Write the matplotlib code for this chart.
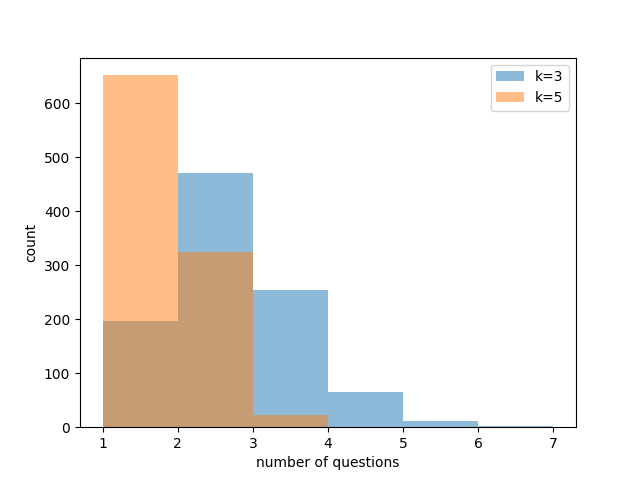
import matplotlib
matplotlib.use("Agg")
import matplotlib.pyplot as plt
import numpy as np

bin_edges = [1, 2, 3, 4, 5, 6, 7]
counts_k3 = [196, 470, 254, 65, 11, 2]
counts_k5 = [652, 324, 22, 0, 0, 0]

fig, ax = plt.subplots(figsize=(6.4, 4.8), dpi=100)
centers = np.array(bin_edges[:-1]) + 0.5
ax.hist(centers, bins=bin_edges, weights=counts_k3, alpha=0.5, label="k=3")
ax.hist(centers, bins=bin_edges, weights=counts_k5, alpha=0.5, label="k=5")
ax.set_xlabel("number of questions")
ax.set_ylabel("count")
ax.legend(loc="upper right")
fig.savefig("out.png")
